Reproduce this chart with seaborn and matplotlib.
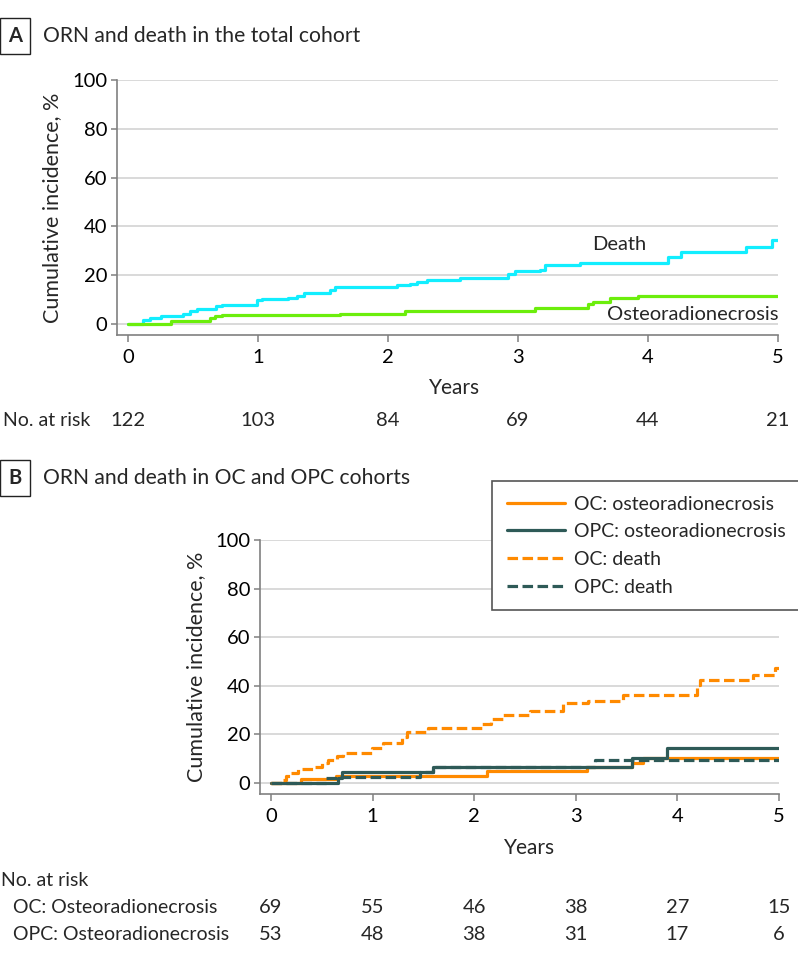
import matplotlib
matplotlib.use("Agg")

import matplotlib.pyplot as plt
import matplotlib.transforms as mtransforms
import pandas as pd
import seaborn as sns

W, H = 798, 963

# Panel A, total cohort: step times (years) and cumulative incidence (%) after each step
death_t = [0.115, 0.17, 0.25, 0.42, 0.48, 0.53, 0.68, 0.72, 0.99, 1.03, 1.23, 1.30, 1.35,
           1.55, 1.59, 2.07, 2.17, 2.22, 2.30, 2.55, 2.92, 2.98, 3.17, 3.21, 3.48, 4.15,
           4.25, 4.75, 4.95]
death_v = [1.6, 2.6, 3.3, 4.0, 5.3, 6.2, 7.3, 7.9, 9.8, 10.2, 10.6, 11.4, 12.8,
           13.9, 15.2, 16.0, 16.6, 17.2, 18.0, 18.9, 20.7, 21.6, 22.3, 24.1, 25.0, 27.5,
           29.5, 31.6, 34.3]
orn_t = [0.33, 0.63, 0.67, 0.72, 1.63, 2.13, 3.13, 3.54, 3.58, 3.71, 3.92]
orn_v = [1.2, 2.3, 3.3, 3.9, 4.3, 5.5, 6.4, 8.2, 9.1, 10.5, 11.4]

# Panel B, OC and OPC cohorts
oc_orn_t = [0.30, 0.64, 2.13, 3.11, 3.55, 3.66]
oc_orn_v = [1.5, 2.9, 4.9, 6.5, 8.2, 10.2]
opc_orn_t = [0.66, 0.70, 1.59, 3.55, 3.90]
opc_orn_v = [2.0, 4.6, 6.6, 10.2, 14.6]
oc_death_t = [0.11, 0.15, 0.19, 0.27, 0.41, 0.50, 0.56, 0.65, 0.71, 0.99, 1.10, 1.29,
              1.34, 1.55, 2.08, 2.17, 2.28, 2.55, 2.87, 3.12, 3.46, 4.19, 4.22, 4.74, 4.96]
oc_death_v = [1.4, 2.9, 4.3, 5.8, 6.8, 8.3, 9.3, 11.0, 12.3, 14.4, 16.3, 18.9,
              21.0, 22.6, 24.3, 26.2, 28.0, 29.8, 32.9, 33.9, 36.3, 40.4, 42.2, 44.5, 47.5]
opc_death_t = [0.54, 0.66, 1.47, 1.59, 3.19]
opc_death_v = [1.9, 2.5, 4.6, 6.6, 9.4]

risk_years = [0, 1, 2, 3, 4, 5]
risk_total = [122, 103, 84, 69, 44, 21]
risk_oc = [69, 55, 46, 38, 27, 15]
risk_opc = [53, 48, 38, 31, 17, 6]

CYAN = "#12EEFF"
GREEN = "#6CEE0C"
ORANGE = "#FF8A00"
TEAL = "#2E5A57"
GRID = "#d9d9d9"
SPINE = "#808080"

TICK_SIZE = 14.5
LABEL_SIZE = 15
RISK_LABEL_SIZE = 14


def step_frame(times, values, name):
    t = [0.0] + list(times) + [5.0]
    v = [0.0] + list(values) + [values[-1]]
    return pd.DataFrame({"Years": t, "Incidence": v, "Series": name})


def style_axes(ax, xmin):
    ax.set_xlim(xmin, 5)
    ax.set_ylim(-4.5, 100)
    ax.set_xticks(risk_years)
    ax.set_yticks(range(0, 101, 20))
    ax.yaxis.grid(True, color=GRID, linewidth=1.4)
    ax.xaxis.grid(False)
    ax.set_axisbelow(True)
    sns.despine(ax=ax)
    for side in ["left", "bottom"]:
        ax.spines[side].set_color(SPINE)
        ax.spines[side].set_linewidth(1.2)
    ax.tick_params(axis="both", color=SPINE, labelcolor="black", labelsize=TICK_SIZE, width=1.1)
    ax.tick_params(axis="y", length=4, pad=3)
    ax.tick_params(axis="x", length=5, pad=5)
    ax.set_xlabel("Years", fontsize=LABEL_SIZE)
    ax.set_ylabel("Cumulative incidence, %", fontsize=15.5)


def panel_title(fig, letter, text, y):
    fig.text(15 / W, 1 - y / H, letter, ha="center", va="center", fontsize=14.5,
             fontweight="bold",
             bbox=dict(boxstyle="square,pad=0.4", fc="white", ec="#222222", lw=1.0))
    fig.text(43 / W, 1 - y / H, text, ha="left", va="center", fontsize=15.2)


sns.set_style("ticks")
plt.rcParams["font.family"] = ["Lato", "DejaVu Sans"]

fig = plt.figure(figsize=(W / 100, H / 100), dpi=100)

# ---- Panel A
ax_a = fig.add_axes([117 / W, 1 - 335 / H, 661 / W, 255 / H])
df_a = pd.concat([step_frame(death_t, death_v, "Death"),
                  step_frame(orn_t, orn_v, "Osteoradionecrosis")])
sns.lineplot(data=df_a, x="Years", y="Incidence", hue="Series",
             palette={"Death": CYAN, "Osteoradionecrosis": GREEN},
             drawstyle="steps-post", estimator=None, linewidth=2.3,
             legend=False, ax=ax_a)
style_axes(ax_a, -0.085)
ax_a.xaxis.set_label_coords((455 - 117) / 661, -(388 - 335) / 255)
ax_a.xaxis.label.set_va("center")
ax_a.yaxis.set_label_coords(-(117 - 52) / 661, 0.5)
ax_a.yaxis.label.set_va("center")
ax_a.text(3.78, 32.7, "Death", ha="center", va="center", fontsize=14.5)
ax_a.text(5.0, 3.7, "Osteoradionecrosis", ha="right", va="center", fontsize=14.5)

trans_a = mtransforms.blended_transform_factory(ax_a.transData, fig.transFigure)
fig.text(3 / W, 1 - 420 / H, "No. at risk", ha="left", va="center", fontsize=RISK_LABEL_SIZE)
for yr, n in zip(risk_years, risk_total):
    ax_a.text(yr, 1 - 420 / H, str(n), transform=trans_a, ha="center", va="center",
              fontsize=TICK_SIZE)

panel_title(fig, "A", "ORN and death in the total cohort", 36)

# ---- Panel B
ax_b = fig.add_axes([260 / W, 1 - 794 / H, 519 / W, 254 / H])
order_b = ["OC: osteoradionecrosis", "OPC: osteoradionecrosis", "OC: death", "OPC: death"]
df_b = pd.concat([step_frame(oc_orn_t, oc_orn_v, order_b[0]),
                  step_frame(opc_orn_t, opc_orn_v, order_b[1]),
                  step_frame(oc_death_t, oc_death_v, order_b[2]),
                  step_frame(opc_death_t, opc_death_v, order_b[3])])
sns.lineplot(data=df_b, x="Years", y="Incidence", hue="Series", style="Series",
             hue_order=order_b, style_order=order_b,
             palette={order_b[0]: ORANGE, order_b[1]: TEAL, order_b[2]: ORANGE, order_b[3]: TEAL},
             dashes={order_b[0]: "", order_b[1]: "", order_b[2]: (3.3, 1.4), order_b[3]: (3.3, 1.4)},
             drawstyle="steps-post", estimator=None, linewidth=2.3, ax=ax_b)
style_axes(ax_b, -0.108)
ax_b.xaxis.set_label_coords((530 - 260) / 519, -(848 - 794) / 254)
ax_b.xaxis.label.set_va("center")
ax_b.yaxis.set_label_coords(-(260 - 196) / 519, 0.5)
ax_b.yaxis.label.set_va("center")

sns.move_legend(ax_b, "upper left", bbox_to_anchor=(492 / W, 1 - 481 / H),
                bbox_transform=fig.transFigure, title=None, frameon=True, fancybox=False,
                framealpha=1, edgecolor="#555555", fontsize=14, handlelength=3.0,
                handletextpad=0.45, borderpad=0.75, labelspacing=0.55, borderaxespad=0)
leg = ax_b.get_legend()
leg.get_frame().set_linewidth(1.2)
for line in leg.get_lines():
    line.set_linewidth(2.3)

trans_b = mtransforms.blended_transform_factory(ax_b.transData, fig.transFigure)
fig.text(1 / W, 1 - 880 / H, "No. at risk", ha="left", va="center", fontsize=RISK_LABEL_SIZE)
fig.text(13 / W, 1 - 907 / H, "OC: Osteoradionecrosis", ha="left", va="center",
         fontsize=RISK_LABEL_SIZE)
fig.text(13 / W, 1 - 934 / H, "OPC: Osteoradionecrosis", ha="left", va="center",
         fontsize=RISK_LABEL_SIZE)
for yr, n_oc, n_opc in zip(risk_years, risk_oc, risk_opc):
    ax_b.text(yr, 1 - 907 / H, str(n_oc), transform=trans_b, ha="center", va="center",
              fontsize=TICK_SIZE)
    ax_b.text(yr, 1 - 934 / H, str(n_opc), transform=trans_b, ha="center", va="center",
              fontsize=TICK_SIZE)

panel_title(fig, "B", "ORN and death in OC and OPC cohorts", 478)

fig.savefig("out.png", dpi=100)
